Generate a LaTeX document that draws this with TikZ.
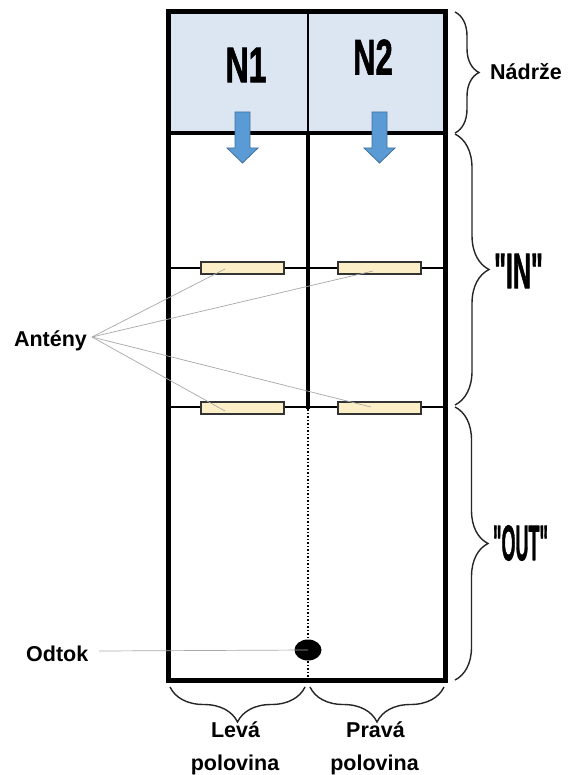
\documentclass[tikz,border=0pt]{standalone}
\usepackage{fontspec}
\setmainfont{Liberation Sans}
\newfontfamily\heavy{Liberation Sans Bold}[FakeBold=1.6]
\usetikzlibrary{decorations.pathreplacing,shapes.geometric}
\definecolor{tankfill}{HTML}{DCE6F2}
\definecolor{arrowfill}{HTML}{5B9BD5}
\definecolor{arrowline}{HTML}{41719C}
\definecolor{antfill}{HTML}{FCEFC7}
\definecolor{leader}{HTML}{A8A8A8}
\begin{document}
\begin{tikzpicture}[x=1pt,y=-1pt,
  lbl/.style={font=\fontsize{21.5}{24}\selectfont\bfseries, inner sep=0},
  big/.style={font=\fontsize{50}{50}\selectfont\heavy, inner sep=0},
  antenna/.style={draw=black!80, fill=antfill, line width=1.3pt, minimum width=83pt, minimum height=12pt, inner sep=0},
  thinline/.style={line width=1.5pt},
  leaderline/.style={draw=leader, line width=0.7pt},
  bracedec/.style={decorate, line width=1.4pt, draw=black!85},
  flowarrow/.style={fill=arrowfill, draw=arrowline, line width=0.8pt},
]
\useasboundingbox (0,0) rectangle (569,775);
\fill[white] (0,0) rectangle (569,775);

% tank area
\fill[tankfill] (168,12) rectangle (445,133);
\draw[thinline] (308,12) -- (308,133);
% antenna rails
\draw[thinline] (168,268) -- (445,268);
\draw[thinline] (168,407) -- (445,407);
% middle divider
\draw[line width=4pt] (308,133) -- (308,409);
\draw[line width=1.5pt, dash pattern=on 1.5pt off 2pt] (308,409) -- (308,680);
% tank bottom and outer frame
\draw[line width=4.5pt] (168,133) -- (445,133);
\draw[line width=5pt] (168,12) rectangle (445,680);

% flow arrows
\draw[flowarrow] (235,112) -- (250,112) -- (250,148) -- (258,148) -- (242.5,163) -- (227,148) -- (235,148) -- cycle;
\draw[flowarrow] (372,112) -- (387,112) -- (387,148) -- (395,148) -- (379.5,163) -- (364,148) -- (372,148) -- cycle;

% tank labels
\node[big] (n1) at (246,65) {\scalebox{0.64}[1]{N1}};
\node[big] (n2) at (373,57) {\scalebox{0.62}[1]{N2}};

% antennas
\node[antenna] (a1) at (242.5,268) {};
\node[antenna] (a2) at (379.5,268) {};
\node[antenna] (a3) at (242.5,408) {};
\node[antenna] (a4) at (379.5,408) {};
\coordinate (p1) at (225,269);
\coordinate (p2) at (373,271);
\coordinate (p3) at (225,411);
\coordinate (p4) at (371,407);

% Antény label and leaders
\node[lbl, anchor=base] (antlbl) at (50.5,346) {Antény};
\coordinate (ae) at (92,337);
\draw[leaderline] (ae) -- (p1);
\draw[leaderline] (ae) -- (p2);
\draw[leaderline] (ae) -- (p3);
\draw[leaderline] (ae) -- (p4);

% drain
\node[ellipse, fill=black, minimum width=27pt, minimum height=21pt, inner sep=0] (drain) at (308,650) {};
\node[lbl, anchor=base west] (odtok) at (26,661) {Odtok};
\coordinate (oe) at (99,651);
\draw[leaderline] (oe) -- (drain.center);

% right braces
\draw[bracedec, decoration={brace, amplitude=24pt}] (455,12) -- (455,133);
\draw[bracedec, decoration={brace, amplitude=34pt}] (455,134) -- (455,405);
\draw[bracedec, decoration={brace, amplitude=33pt}] (455,407) -- (455,680);
\node[lbl, anchor=base west] (nadrze) at (490,80) {Nádrže};
\node[big] (inlbl) at (518.5,271) {\scalebox{0.5}[1]{"IN"}};
\node[big] (outlbl) at (520.5,543) {\scalebox{0.36}[1]{"OUT"}};

% bottom braces
\draw[bracedec, decoration={brace, amplitude=35pt}] (305,687) -- (170,687);
\draw[bracedec, decoration={brace, amplitude=35pt}] (444,687) -- (310,687);
\node[lbl, anchor=base] (leva) at (235.5,737) {Levá};
\node[lbl, anchor=base] (levapol) at (235,770) {polovina};
\node[lbl, anchor=base] (prava) at (375.5,737) {Pravá};
\node[lbl, anchor=base] (pravapol) at (374.5,770) {polovina};
\end{tikzpicture}
\end{document}
